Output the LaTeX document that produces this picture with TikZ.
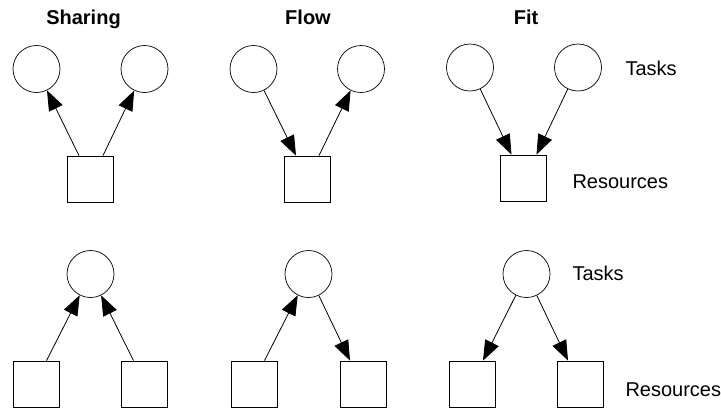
\documentclass[tikz,border=0pt]{standalone}
\usepackage{fontspec}
\setmainfont{Liberation Sans}
\usetikzlibrary{arrows.meta,calc}
\begin{document}
\begin{tikzpicture}[x=1pt,y=-1pt,
 task/.style={circle,draw,minimum size=47pt,inner sep=0pt,line width=0.7pt},
 res/.style={rectangle,draw,minimum size=46pt,inner sep=0pt,line width=0.8pt},
 arr/.style={-{Triangle[length=20pt,width=15pt]},line width=0.8pt},
 ttl/.style={font=\fontsize{20}{24}\selectfont\bfseries,anchor=base},
 lbl/.style={font=\fontsize{20}{24}\selectfont,anchor=base west}]
\useasboundingbox (0,0) rectangle (721,408);
% titles
\node[ttl] (t1) at (83.5,24) {Sharing};
\node[ttl] (t2) at (308,24) {Flow};
\node[ttl] (t3) at (526,24) {Fit};
% top row
\node[task] (c1) at (36.5,69) {};
\node[task] (c2) at (144.5,69) {};
\node[res]  (s1) at (90,179) {};
\node[task] (c3) at (253.5,69) {};
\node[task] (c4) at (361,69) {};
\node[res]  (s2) at (307,179) {};
\node[task] (c5) at (470,67.5) {};
\node[task] (c6) at (578,67.5) {};
\node[res]  (s3) at (523.5,178) {};
% bottom row
\node[task] (c7) at (90.5,274) {};
\node[res]  (s4) at (36.5,384) {};
\node[res]  (s5) at (144.5,384) {};
\node[task] (c8) at (308.5,274) {};
\node[res]  (s6) at (254.5,384) {};
\node[res]  (s7) at (363,384) {};
\node[task] (c9) at (526.5,274) {};
\node[res]  (s8) at (472,384) {};
\node[res]  (s9) at (580,384) {};
% labels
\node[lbl] (l1) at (622,75) {Tasks};
\node[lbl] (l2) at (569,188) {Resources};
\node[lbl] (l3) at (569,280) {Tasks};
\node[lbl] (l4) at (622,396) {Resources};
% arrows top
\draw[arr] ($(s1.north)+(-11,0)$) -- (c1);
\draw[arr] ($(s1.north)+(13,0)$) -- (c2);
\draw[arr] (c3) -- ($(s2.north)+(-11,0)$);
\draw[arr] ($(s2.north)+(12,0)$) -- (c4);
\draw[arr] (c5) -- ($(s3.north)+(-12,0)$);
\draw[arr] (c6) -- ($(s3.north)+(13,0)$);
% arrows bottom
\draw[arr] ($(s4.north)+(10,0)$) -- (c7);
\draw[arr] ($(s5.north)+(-11,0)$) -- (c7);
\draw[arr] ($(s6.north)+(10,0)$) -- (c8);
\draw[arr] (c8) -- ($(s7.north)+(-13,0)$);
\draw[arr] (c9) -- ($(s8.north)+(11,0)$);
\draw[arr] (c9) -- ($(s9.north)+(-12,0)$);
\end{tikzpicture}
\end{document}
